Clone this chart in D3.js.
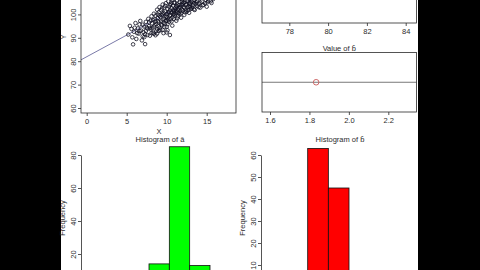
<!DOCTYPE html>
<html>
<head>
<meta charset="utf-8">
<script src="https://cdn.jsdelivr.net/npm/d3@7"></script>
<style>
html, body { margin: 0; padding: 0; background: #000; }
svg { display: block; }
text { font-family: "Liberation Sans", Arial, sans-serif; fill: #2b2b2b; }
</style>
</head>
<body>
<svg id="chart" width="480" height="270"></svg>
<script>
// sample (X, Y) pairs
const samplePoints = [
  [5.2, 91.4], [5.4, 95.1], [5.6, 93.8], [5.8, 87.2], [5.9, 92.6], [6.1, 96.3], [6.2, 89.5], [6.4, 94.0],
  [6.5, 91.8], [6.7, 97.2], [6.8, 93.1], [6.9, 88.9], [7.0, 95.6], [7.1, 92.4], [7.2, 90.3], [7.3, 87.3],
  [7.4, 96.8], [7.5, 94.4], [7.6, 91.2], [7.7, 98.1], [7.8, 95.0], [7.9, 90.9], [8.0, 97.4], [8.0, 93.6],
  [8.1, 99.2], [8.2, 96.1], [8.3, 92.2], [8.4, 100.3], [8.4, 94.8], [8.5, 97.9], [8.6, 91.1], [8.6, 99.5],
  [8.7, 95.9], [8.8, 102.0], [8.8, 93.7], [8.9, 98.4], [9.0, 96.6], [9.0, 100.9], [9.1, 94.2], [9.1, 103.1],
  [9.2, 98.9], [9.3, 97.0], [9.3, 101.8], [9.4, 95.3], [9.4, 99.7], [9.5, 104.2], [9.5, 97.8], [9.6, 92.0],
  [9.6, 100.6], [9.7, 98.2], [9.7, 102.9], [9.8, 96.1], [9.8, 101.2], [9.9, 99.0], [9.9, 104.8], [10.0, 97.5],
  [10.0, 100.2], [10.0, 94.7], [10.1, 102.4], [10.1, 98.6], [10.2, 105.6], [10.2, 100.9], [10.3, 96.9], [10.3, 103.3],
  [10.4, 99.4], [10.4, 101.7], [10.5, 97.9], [10.5, 104.4], [10.6, 100.8], [10.6, 102.6], [10.7, 95.2], [10.7, 106.2],
  [10.8, 99.9], [10.8, 103.8], [10.9, 101.3], [10.9, 98.1], [11.0, 105.1], [11.0, 102.0], [11.1, 100.4], [11.1, 107.0],
  [11.2, 97.3], [11.2, 103.6], [11.3, 101.0], [11.3, 105.9], [11.4, 99.2], [11.4, 104.1], [11.5, 102.7], [11.5, 108.2],
  [11.6, 100.0], [11.6, 105.3], [11.7, 103.1], [11.8, 98.6], [11.8, 106.7], [11.9, 104.0], [12.0, 101.6], [12.0, 107.9],
  [12.1, 105.0], [12.2, 102.8], [12.2, 99.8], [12.3, 106.1], [12.4, 103.9], [12.4, 109.3], [12.5, 101.2], [12.6, 105.7],
  [12.6, 107.8], [12.7, 103.4], [12.8, 100.7], [12.8, 106.6], [12.9, 104.5], [13.0, 108.9], [13.0, 102.3], [13.1, 105.4],
  [13.2, 103.0], [13.3, 107.2], [13.4, 104.8], [13.5, 101.9], [13.5, 106.0], [13.6, 110.1], [13.7, 105.2], [13.8, 103.6],
  [13.9, 108.0], [14.0, 104.6], [14.1, 106.9], [14.2, 102.9], [14.3, 109.4], [14.4, 105.5], [14.6, 104.1], [14.7, 107.6],
  [14.9, 106.2], [15.0, 103.3], [15.2, 105.8], [15.4, 108.7], [15.6, 104.9], [15.8, 106.5], [16.1, 110.3], [16.5, 108.1],
  [8.5, 95.5], [8.9, 97.1], [9.2, 93.3], [9.4, 102.5], [9.6, 96.4], [9.8, 103.7], [10.0, 99.1], [10.1, 95.8],
  [10.3, 101.0], [10.5, 99.8], [10.6, 97.0], [10.8, 101.9], [10.9, 104.9], [11.0, 99.6], [11.2, 101.5], [11.3, 98.3],
  [11.5, 100.6], [11.7, 101.4], [11.9, 102.2], [12.1, 103.2], [12.3, 100.9], [12.5, 104.3], [12.7, 101.8], [12.9, 103.1],
  [13.1, 102.6], [13.3, 104.0], [6.6, 92.9], [7.0, 90.6], [7.4, 93.0], [7.8, 96.6], [8.2, 94.1], [8.7, 93.0],
  [6.3, 92.0], [5.7, 90.2], [8.3, 97.6], [8.6, 96.9], [8.9, 100.0], [9.0, 94.9], [9.1, 99.6], [9.3, 95.7],
  [9.5, 100.1], [9.7, 94.6], [9.9, 97.2], [10.2, 97.7], [10.4, 104.0], [10.6, 105.1], [10.7, 98.7], [10.9, 100.3],
  [11.1, 102.8], [11.3, 103.4], [11.4, 101.9], [11.6, 103.9], [11.8, 100.5], [11.9, 105.4], [12.0, 104.6], [12.2, 105.2],
  [12.4, 101.7], [12.6, 103.0], [12.8, 104.9], [13.0, 105.0], [13.2, 105.9], [13.4, 102.2], [13.6, 104.4], [13.8, 105.7],
  [14.0, 103.1], [14.2, 105.0], [14.5, 103.9], [14.8, 104.7], [15.1, 105.2], [15.5, 105.6], [7.6, 93.9], [7.9, 94.2],
  [8.1, 92.0], [6.0, 94.3], [6.6, 95.7], [7.2, 94.8], [9.0, 92.9], [9.5, 93.4], [10.1, 93.2], [8.4, 91.7],
  [8.8, 91.8], [7.3, 91.5], [10.4, 91.2], [10.0, 92.3]
];

// fitted line and estimates
const regA = 81.9;
const regB = 1.85;
const aHat = 81.7;
const bHat = 1.834;

// histogram of a-hat (bin starts, counts)
const aBinStart = [79, 80, 81, 82, 83];
const aCounts = [3, 14, 85, 13, 2];
const aBinWidth = 1;

// histogram of b-hat
const bBinStart = [1.7, 1.8, 1.9, 2.0];
const bCounts = [5, 63, 45, 4];
const bBinWidth = 0.1;

// tick labels
const scatterXTicks = [0, 5, 10, 15];
const scatterYTicks = [60, 70, 80, 90, 100];
const aValueTicks = [78, 80, 82, 84];
const bValueTicks = [1.6, 1.8, 2.0, 2.2];
const aFreqTicks = [20, 40, 60, 80];
const bFreqTicks = [10, 20, 30, 40, 50, 60];

const svg = d3.select('#chart');
const ink = '#2a2a2a';
const textInk = '#2b2b2b';
const fontSize = 7.5;

// white plotting page between the black side bars
svg.append('rect').attr('x', 61).attr('y', 0).attr('width', 357).attr('height', 270).attr('fill', '#fff');

function box(g, x0, y0, x1, y1) {
  g.append('rect')
    .attr('x', x0).attr('y', y0)
    .attr('width', x1 - x0).attr('height', y1 - y0)
    .attr('fill', 'none').attr('stroke', ink).attr('stroke-width', 0.8);
}

function styleAxis(g) {
  g.selectAll('path, line').attr('stroke', ink).attr('stroke-width', 0.8);
  g.selectAll('text').attr('font-size', fontSize).attr('fill', textInk);
}

function bottomAxis(g, scale, ticks, y, fmt) {
  const ax = g.append('g')
    .attr('transform', `translate(0,${y})`)
    .call(d3.axisBottom(scale).tickValues(ticks).tickSize(3).tickSizeOuter(0).tickFormat(fmt));
  ax.select('.domain').remove();
  ax.selectAll('text').attr('y', 10.5).attr('dy', 0);
  styleAxis(ax);
}

function leftAxis(g, scale, ticks, x, keepDomain) {
  const ax = g.append('g')
    .attr('transform', `translate(${x},0)`)
    .call(d3.axisLeft(scale).tickValues(ticks).tickSize(3).tickSizeOuter(0).tickFormat(d3.format('d')));
  if (!keepDomain) ax.select('.domain').remove();
  ax.selectAll('text')
    .attr('transform', 'rotate(-90)')
    .attr('text-anchor', 'middle')
    .attr('x', 0).attr('y', -5.5).attr('dy', 0);
  styleAxis(ax);
}

function label(g, x, y, txt, rotate) {
  const t = g.append('text')
    .attr('text-anchor', 'middle')
    .attr('font-size', fontSize)
    .attr('fill', textInk)
    .text(txt);
  if (rotate) t.attr('transform', `translate(${x},${y}) rotate(-90)`);
  else t.attr('x', x).attr('y', y);
}

// scatter of Y against X with fitted line
function renderScatter() {
  const g = svg.append('g');
  const x = d3.scaleLinear().domain([0, 15]).range([86.7, 206.7]);
  const y = d3.scaleLinear().domain([60, 100]).range([108, 14.4]);
  const [x0, x1] = [81, 236];
  const [y0, y1] = [-40, 113];

  svg.append('clipPath').attr('id', 'clipScatter')
    .append('rect').attr('x', x0).attr('y', y0).attr('width', x1 - x0).attr('height', y1 - y0);

  const inner = g.append('g').attr('clip-path', 'url(#clipScatter)');
  const xs = [x.invert(x0), x.invert(x1)];
  inner.append('line')
    .attr('x1', x(xs[0])).attr('y1', y(regA + regB * xs[0]))
    .attr('x2', x(xs[1])).attr('y2', y(regA + regB * xs[1]))
    .attr('stroke', '#7a7aa8').attr('stroke-width', 1);

  inner.append('g').selectAll('circle')
    .data(samplePoints)
    .join('circle')
    .attr('cx', (d) => x(d[0]))
    .attr('cy', (d) => y(d[1]))
    .attr('r', 1.8)
    .attr('fill', 'none')
    .attr('stroke', '#111122')
    .attr('stroke-width', 0.8);

  box(g, x0, y0, x1, y1);
  bottomAxis(g, x, scatterXTicks, y1, d3.format('d'));
  leftAxis(g, y, scatterYTicks, x0, false);
  label(g, 159, 133.5, 'X');
  label(g, 65.5, 37, 'Y', true);
}

// dot plot of a single estimate on its own axis
function renderValue(scale, ticks, value, y0, y1, fmt, title) {
  const g = svg.append('g');
  const [x0, x1] = [262, 416.5];
  const mid = (y0 + y1) / 2;
  g.append('line')
    .attr('x1', x0).attr('x2', x1).attr('y1', mid).attr('y2', mid)
    .attr('stroke', '#555').attr('stroke-width', 0.8);
  g.append('circle')
    .attr('cx', scale(value)).attr('cy', mid).attr('r', 2.8)
    .attr('fill', 'none').attr('stroke', '#c85a5a').attr('stroke-width', 0.9);
  box(g, x0, y0, x1, y1);
  bottomAxis(g, scale, ticks, y1, fmt);
  if (title) label(g, (x0 + x1) / 2, y0 - 1.5, title);
}

function renderHist(starts, counts, width, xScale, yScale, ticks, axisX, fill, title, titleX) {
  const g = svg.append('g');
  g.append('g').selectAll('rect')
    .data(starts.map((s, i) => ({ s, c: counts[i] })))
    .join('rect')
    .attr('x', (d) => xScale(d.s))
    .attr('width', (d) => xScale(d.s + width) - xScale(d.s))
    .attr('y', (d) => yScale(d.c))
    .attr('height', (d) => yScale(0) - yScale(d.c))
    .attr('fill', fill)
    .attr('stroke', '#111')
    .attr('stroke-width', 0.8);
  leftAxis(g, yScale, ticks, axisX, true);
  label(g, titleX, 142, title);
  label(g, axisX - 16.5, 218, 'Frequency', true);
}

renderScatter();

// top panel: its title sits above the visible page, so none is drawn
renderValue(
  d3.scaleLinear().domain([78, 84]).range([289.3, 405.7]),
  aValueTicks, aHat, -37, 23, d3.format('d'), null
);
renderValue(
  d3.scaleLinear().domain([1.6, 2.2]).range([270, 388.3]),
  bValueTicks, bHat, 52.5, 112, d3.format('.1f'), 'Value of b\u0302'
);

renderHist(
  aBinStart, aCounts, aBinWidth,
  d3.scaleLinear().domain([80, 83]).range([149, 210]),
  d3.scaleLinear().domain([0, 80]).range([287, 155]),
  aFreqTicks, 81, '#00ff00', 'Histogram of \u00e2', 160
);
renderHist(
  bBinStart, bCounts, bBinWidth,
  d3.scaleLinear().domain([1.8, 2.0]).range([307.7, 349]),
  d3.scaleLinear().domain([0, 60]).range([287, 155]),
  bFreqTicks, 261, '#ff0000', 'Histogram of b\u0302', 340
);
</script>
</body>
</html>
